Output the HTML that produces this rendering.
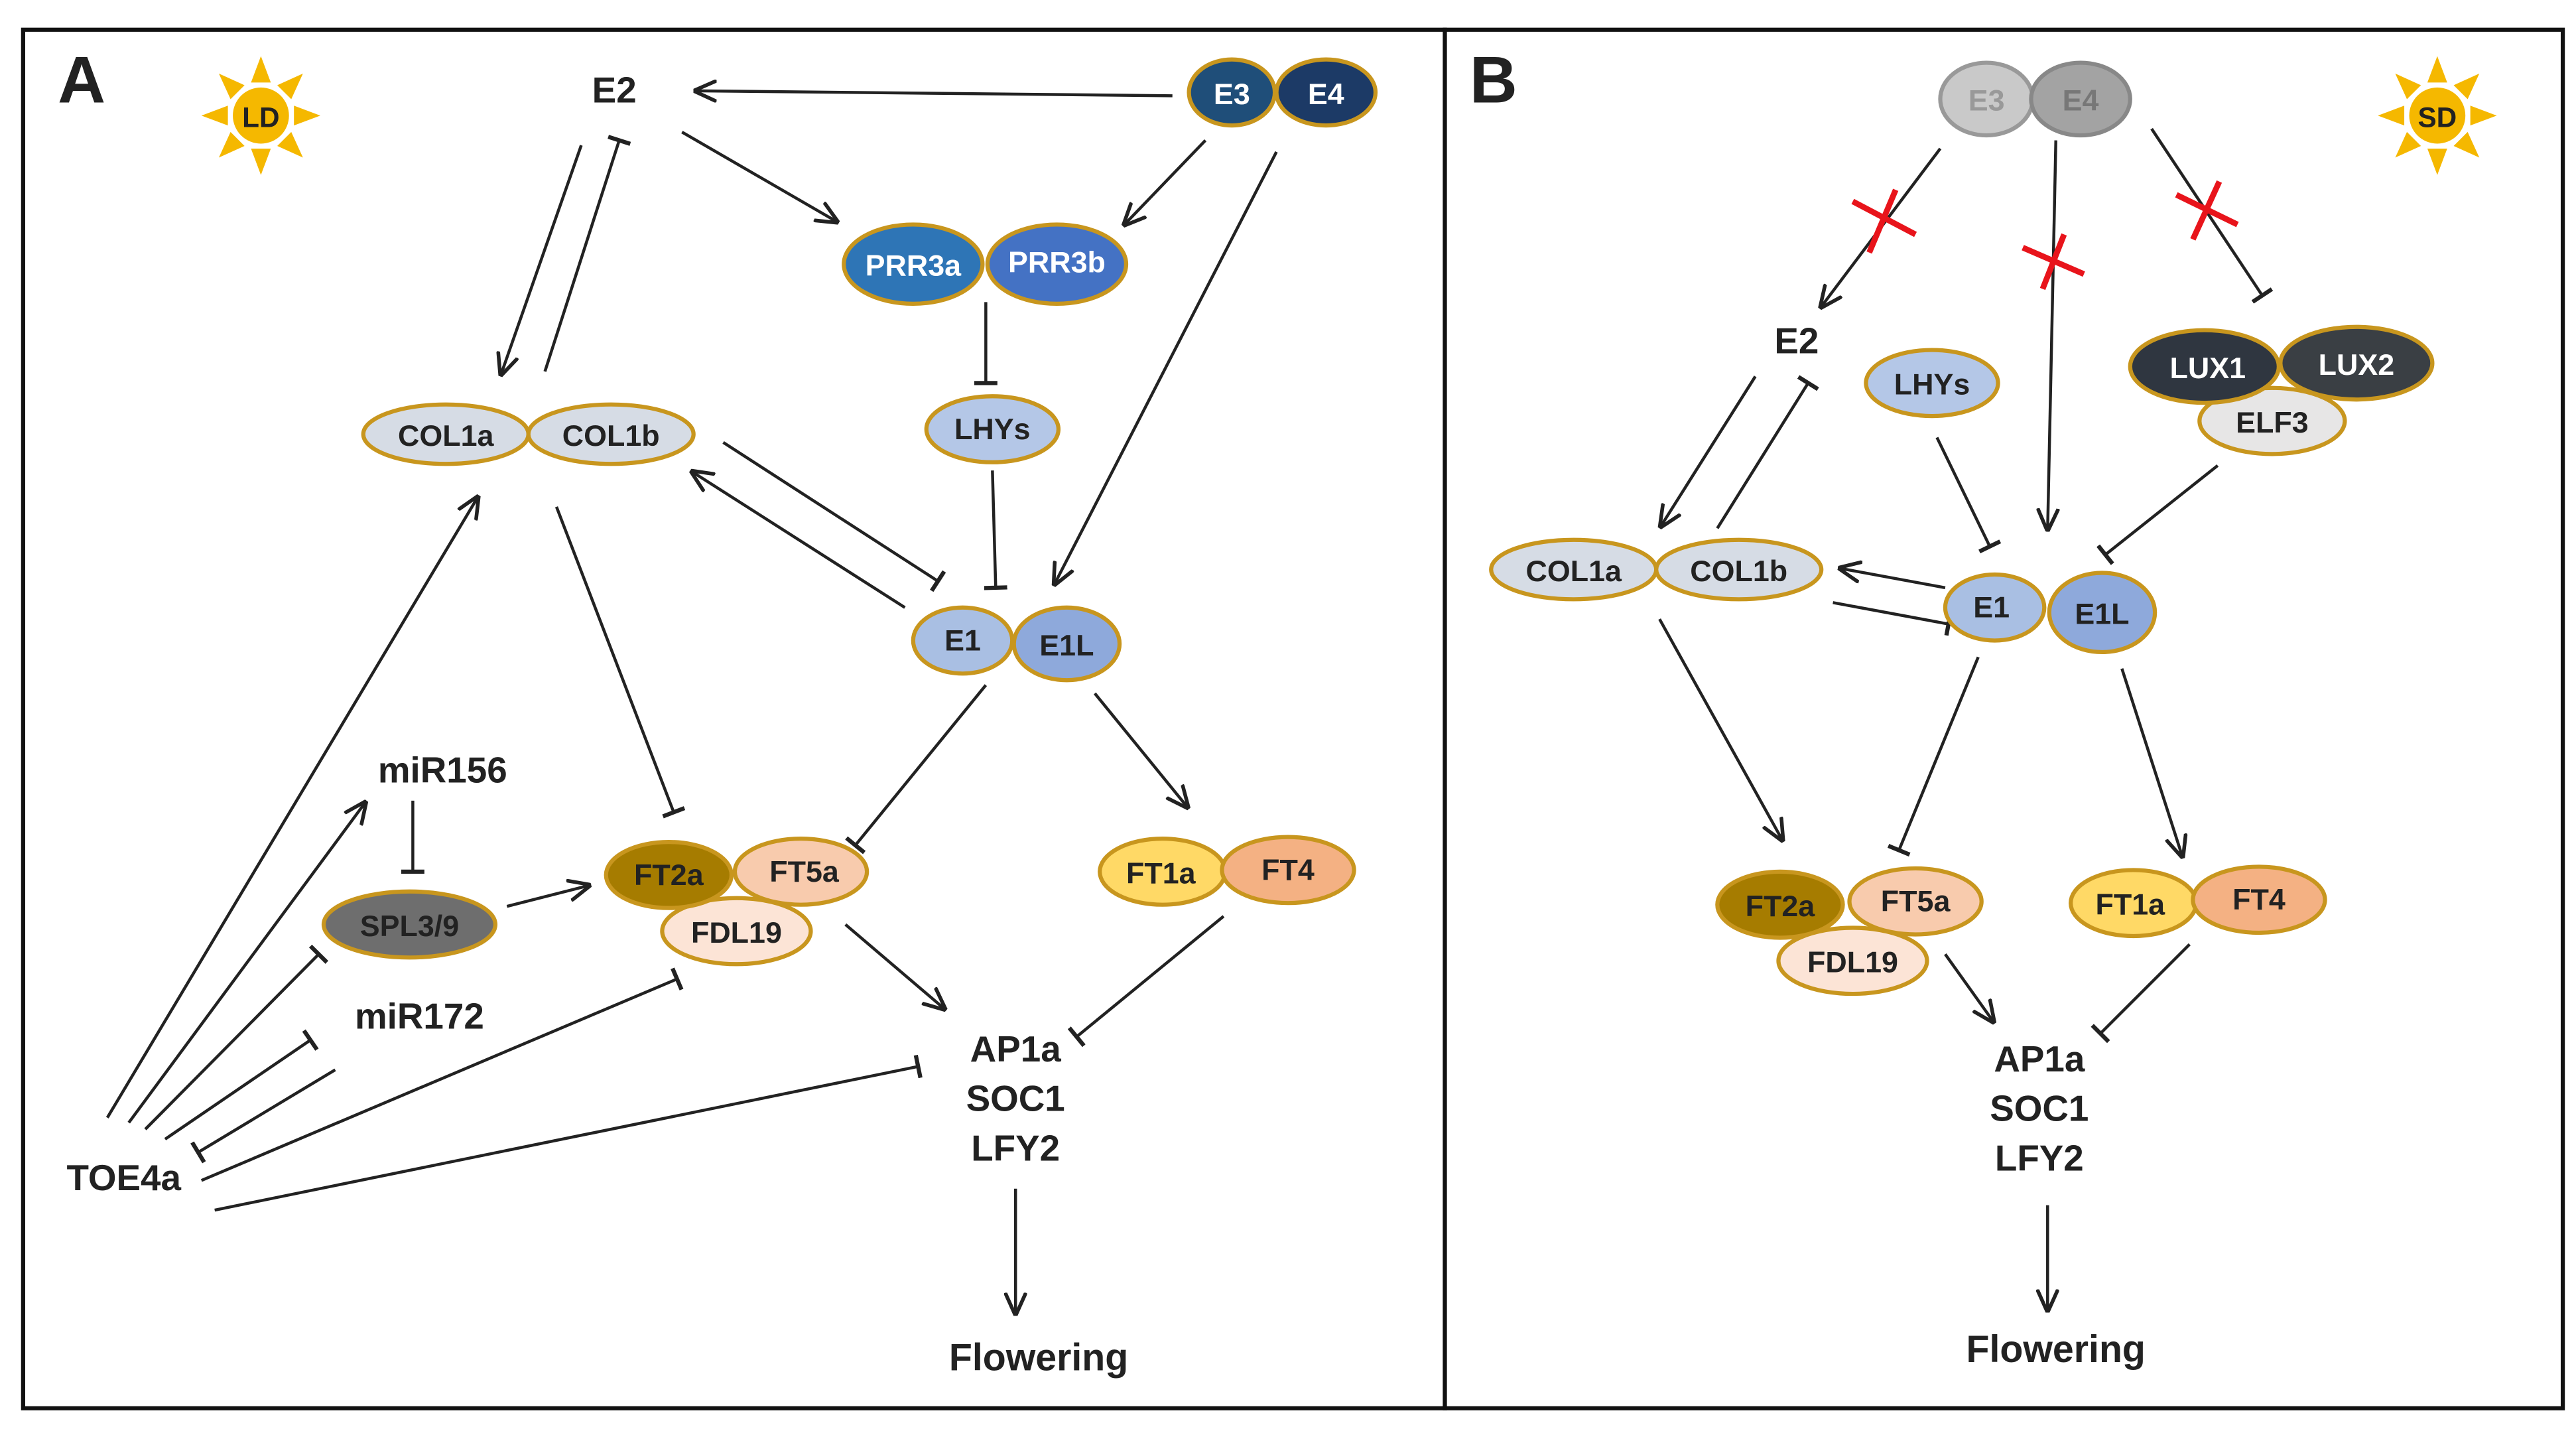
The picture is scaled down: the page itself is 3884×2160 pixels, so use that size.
<!DOCTYPE html>
<html><head><meta charset="utf-8"><style>
html,body{margin:0;padding:0;background:#fff;}
svg{display:block;}
text{font-family:"Liberation Sans",Arial,sans-serif;font-weight:bold;}
</style></head><body>
<svg width="3884" height="2160" viewBox="0 0 1560 868" preserveAspectRatio="none" xmlns="http://www.w3.org/2000/svg">
<defs>
<marker id="a" viewBox="0 0 10 10" refX="10" refY="5" markerWidth="14" markerHeight="14" markerUnits="userSpaceOnUse" orient="auto"><path d="M0,0.5 L10,5 L0,9.5" fill="none" stroke="#222" stroke-width="1.6"/></marker>
<marker id="b" viewBox="0 0 10 10" refX="9" refY="5" markerWidth="14" markerHeight="14" markerUnits="userSpaceOnUse" orient="auto"><path d="M9,0 L9,10" fill="none" stroke="#222" stroke-width="1.8"/></marker>
<g id="sun"><circle r="17" fill="#f5b800"/>
<g fill="#f5b800"><polygon points="-6,-20 6,-20 0,-36"/><polygon points="-6,-20 6,-20 0,-36" transform="rotate(45)"/><polygon points="-6,-20 6,-20 0,-36" transform="rotate(90)"/><polygon points="-6,-20 6,-20 0,-36" transform="rotate(135)"/><polygon points="-6,-20 6,-20 0,-36" transform="rotate(180)"/><polygon points="-6,-20 6,-20 0,-36" transform="rotate(225)"/><polygon points="-6,-20 6,-20 0,-36" transform="rotate(270)"/><polygon points="-6,-20 6,-20 0,-36" transform="rotate(315)"/></g></g>
</defs>
<rect x="14" y="18" width="861" height="835" fill="#fff" stroke="#111" stroke-width="2.5"/>
<rect x="875" y="18" width="677" height="835" fill="#fff" stroke="#111" stroke-width="2.5"/>

<g stroke="#222" stroke-width="1.8" fill="none">
<!-- Panel A lines -->
<line x1="710" y1="58" x2="420" y2="55" marker-end="url(#a)"/>
<line x1="413" y1="80" x2="508" y2="135" marker-end="url(#a)"/>
<line x1="730" y1="85" x2="680" y2="137" marker-end="url(#a)"/>
<line x1="773" y1="92" x2="638" y2="355" marker-end="url(#a)"/>
<line x1="597" y1="183" x2="597" y2="232" marker-end="url(#b)"/>
<line x1="601" y1="285" x2="603" y2="356" marker-end="url(#b)"/>
<line x1="352" y1="88" x2="303" y2="228" marker-end="url(#a)"/>
<line x1="330" y1="225" x2="375" y2="85" marker-end="url(#b)"/>
<line x1="548" y1="368" x2="418" y2="285" marker-end="url(#a)"/>
<line x1="438" y1="268" x2="568" y2="352" marker-end="url(#b)"/>
<line x1="337" y1="307" x2="408" y2="492" marker-end="url(#b)"/>
<line x1="597" y1="415" x2="518" y2="512" marker-end="url(#b)"/>
<line x1="663" y1="420" x2="720" y2="490" marker-end="url(#a)"/>
<line x1="512" y1="560" x2="573" y2="612" marker-end="url(#a)"/>
<line x1="741" y1="555" x2="652" y2="628" marker-end="url(#b)"/>
<line x1="615" y1="720" x2="615" y2="797" marker-end="url(#a)"/>
<line x1="250" y1="485" x2="250" y2="528" marker-end="url(#b)"/>
<line x1="307" y1="549" x2="358" y2="536" marker-end="url(#a)"/>
<line x1="65" y1="677" x2="290" y2="300" marker-end="url(#a)"/>
<line x1="78" y1="680" x2="222" y2="485" marker-end="url(#a)"/>
<line x1="88" y1="684" x2="193" y2="578" marker-end="url(#b)"/>
<line x1="100" y1="690" x2="188" y2="630" marker-end="url(#b)"/>
<line x1="203" y1="648" x2="120" y2="698" marker-end="url(#b)"/>
<line x1="122" y1="715" x2="410" y2="593" marker-end="url(#b)"/>
<line x1="130" y1="733" x2="556" y2="646" marker-end="url(#b)"/>
<!-- Panel B lines -->
<line x1="1175" y1="90" x2="1102" y2="187" marker-end="url(#a)"/>
<line x1="1245" y1="85" x2="1240" y2="322" marker-end="url(#a)"/>
<line x1="1303" y1="78" x2="1370" y2="179" marker-end="url(#b)"/>
<line x1="1063" y1="228" x2="1005" y2="320" marker-end="url(#a)"/>
<line x1="1040" y1="320" x2="1095" y2="232" marker-end="url(#b)"/>
<line x1="1173" y1="265" x2="1205" y2="331" marker-end="url(#b)"/>
<line x1="1343" y1="282" x2="1275" y2="336" marker-end="url(#b)"/>
<line x1="1178" y1="356" x2="1113" y2="344" marker-end="url(#a)"/>
<line x1="1110" y1="365" x2="1180" y2="378" marker-end="url(#b)"/>
<line x1="1005" y1="375" x2="1080" y2="510" marker-end="url(#a)"/>
<line x1="1198" y1="398" x2="1150" y2="515" marker-end="url(#b)"/>
<line x1="1285" y1="405" x2="1322" y2="520" marker-end="url(#a)"/>
<line x1="1178" y1="578" x2="1208" y2="620" marker-end="url(#a)"/>
<line x1="1326" y1="572" x2="1272" y2="626" marker-end="url(#b)"/>
<line x1="1240" y1="730" x2="1240" y2="795" marker-end="url(#a)"/>
</g>
<!-- red X -->
<g stroke="#e8141b" stroke-width="3.5">
<line x1="1122" y1="122" x2="1160" y2="142"/><line x1="1132" y1="153" x2="1148" y2="115"/>
<line x1="1225" y1="150" x2="1262" y2="166"/><line x1="1237" y1="175" x2="1250" y2="142"/>
<line x1="1318" y1="118" x2="1355" y2="136"/><line x1="1328" y1="145" x2="1344" y2="110"/>
</g>

<use href="#sun" x="158" y="70"/>
<use href="#sun" x="1476" y="70"/>
<text x="158" y="77" font-size="17" text-anchor="middle" fill="#222">LD</text>
<text x="1476" y="77" font-size="17" text-anchor="middle" fill="#222">SD</text>

<g stroke="#c8961e" stroke-width="2.5">
<!-- A -->
<ellipse cx="746" cy="56" rx="26" ry="20" fill="#1f4e79"/>
<ellipse cx="803" cy="56" rx="30" ry="20" fill="#1c3a66"/>
<ellipse cx="553" cy="160" rx="42" ry="24" fill="#2e75b6"/>
<ellipse cx="640" cy="160" rx="42" ry="24" fill="#4472c4"/>
<ellipse cx="601" cy="260" rx="40" ry="20" fill="#b4c7e7"/>
<ellipse cx="270" cy="263" rx="50" ry="18" fill="#d6dce5"/>
<ellipse cx="370" cy="263" rx="50" ry="18" fill="#d6dce5"/>
<ellipse cx="583" cy="388" rx="30" ry="20" fill="#a9bfe3"/>
<ellipse cx="646" cy="390" rx="32" ry="22" fill="#8ea9db"/>
<ellipse cx="446" cy="564" rx="45" ry="20" fill="#fce4d6"/>
<ellipse cx="405" cy="530" rx="38" ry="20" fill="#a67c00"/>
<ellipse cx="485" cy="528" rx="40" ry="20" fill="#f8cbad"/>
<ellipse cx="704" cy="528" rx="38" ry="20" fill="#ffd966"/>
<ellipse cx="780" cy="527" rx="40" ry="20" fill="#f4b183"/>
<ellipse cx="248" cy="560" rx="52" ry="20" fill="#6e6e6e"/>
<!-- B -->
<ellipse cx="1203" cy="60" rx="28" ry="22" fill="#c9c9c9" stroke="#999"/>
<ellipse cx="1260" cy="60" rx="30" ry="22" fill="#a3a3a3" stroke="#888"/>
<ellipse cx="1170" cy="232" rx="40" ry="20" fill="#b4c7e7"/>
<ellipse cx="1376" cy="255" rx="44" ry="20" fill="#e7e6e6"/>
<ellipse cx="1335" cy="222" rx="45" ry="22" fill="#2f3640"/>
<ellipse cx="1427" cy="220" rx="46" ry="22" fill="#3a3f44"/>
<ellipse cx="953" cy="345" rx="50" ry="18" fill="#d6dce5"/>
<ellipse cx="1053" cy="345" rx="50" ry="18" fill="#d6dce5"/>
<ellipse cx="1208" cy="368" rx="30" ry="20" fill="#a9bfe3"/>
<ellipse cx="1273" cy="371" rx="32" ry="24" fill="#8ea9db"/>
<ellipse cx="1122" cy="582" rx="45" ry="20" fill="#fce4d6"/>
<ellipse cx="1078" cy="548" rx="38" ry="20" fill="#a67c00"/>
<ellipse cx="1160" cy="546" rx="40" ry="20" fill="#f8cbad"/>
<ellipse cx="1292" cy="547" rx="38" ry="20" fill="#ffd966"/>
<ellipse cx="1368" cy="545" rx="40" ry="20" fill="#f4b183"/>
</g>

<g font-size="18" text-anchor="middle" fill="#222">
<text x="35" y="62" font-size="40" text-anchor="start">A</text>
<text x="890" y="62" font-size="40" text-anchor="start">B</text>
<text x="372" y="62" font-size="22">E2</text>
<text x="746" y="63" fill="#fff">E3</text>
<text x="803" y="63" fill="#fff">E4</text>
<text x="553" y="167" fill="#fff">PRR3a</text>
<text x="640" y="165" fill="#fff">PRR3b</text>
<text x="601" y="266">LHYs</text>
<text x="270" y="270">COL1a</text>
<text x="370" y="270">COL1b</text>
<text x="583" y="394">E1</text>
<text x="646" y="397">E1L</text>
<text x="405" y="536">FT2a</text>
<text x="487" y="534">FT5a</text>
<text x="446" y="571">FDL19</text>
<text x="703" y="535">FT1a</text>
<text x="780" y="533">FT4</text>
<text x="248" y="567">SPL3/9</text>
<text x="268" y="474" font-size="22">miR156</text>
<text x="254" y="623" font-size="22">miR172</text>
<text x="75" y="721" font-size="22">TOE4a</text>
<text x="615" y="643" font-size="22">AP1a</text>
<text x="615" y="673" font-size="22">SOC1</text>
<text x="615" y="703" font-size="22">LFY2</text>
<text x="629" y="830" font-size="23">Flowering</text>

<text x="1203" y="67" fill="#999">E3</text>
<text x="1260" y="67" fill="#777">E4</text>
<text x="1088" y="214" font-size="22">E2</text>
<text x="1170" y="239">LHYs</text>
<text x="1337" y="229" fill="#fff">LUX1</text>
<text x="1427" y="227" fill="#fff">LUX2</text>
<text x="1376" y="262">ELF3</text>
<text x="953" y="352">COL1a</text>
<text x="1053" y="352">COL1b</text>
<text x="1206" y="374">E1</text>
<text x="1273" y="378">E1L</text>
<text x="1078" y="555">FT2a</text>
<text x="1160" y="552">FT5a</text>
<text x="1122" y="589">FDL19</text>
<text x="1290" y="554">FT1a</text>
<text x="1368" y="551">FT4</text>
<text x="1235" y="649" font-size="22">AP1a</text>
<text x="1235" y="679" font-size="22">SOC1</text>
<text x="1235" y="709" font-size="22">LFY2</text>
<text x="1245" y="825" font-size="23">Flowering</text>
</g>
</svg>
</body></html>
